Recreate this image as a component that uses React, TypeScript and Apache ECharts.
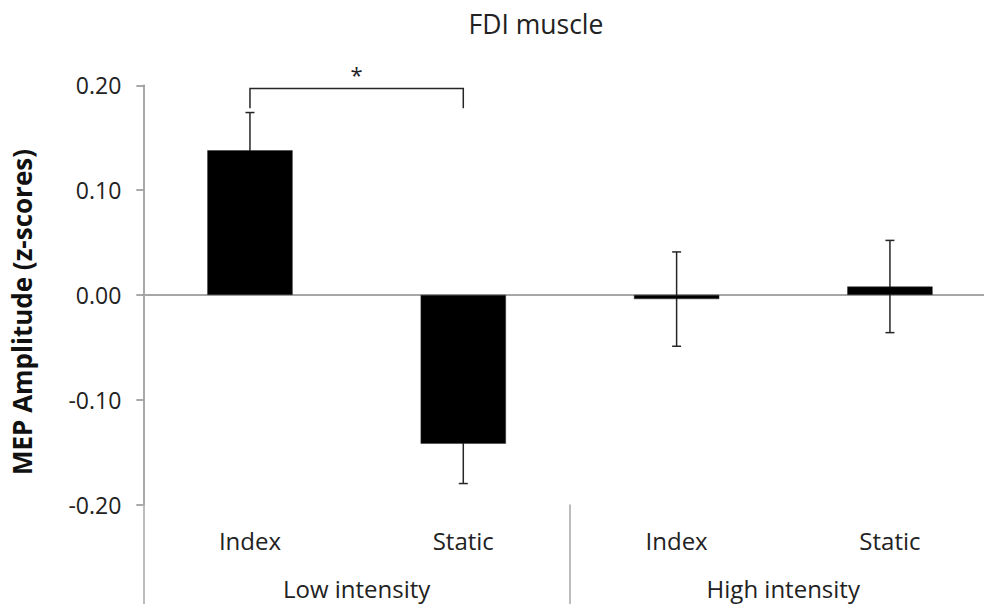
import React, { useEffect, useRef } from "react";
import * as echarts from "echarts";

const conditions = ["Index", "Static", "Index", "Static"];
const groups = ["Low intensity", "High intensity"];
const meanValues = [0.138, -0.142, -0.004, 0.008];
const errorValues = [0.036, 0.038, 0.045, 0.044];
// significance bracket: [fromCategory, toCategory, bracketTop, legEnd]
const bracket = [[0, 1, 0.197, 0.178]];
const bracketLabel = "*";
const yTicks = { min: -0.2, max: 0.2, interval: 0.1 };

const FONT = "'Open Sans', 'Noto Sans', sans-serif";
const TEXT = "#222222";

export default function App() {
  const ref = useRef<HTMLDivElement>(null);
  useEffect(() => {
    if (!ref.current) return;
    const chart = echarts.init(ref.current, null, { renderer: "svg" });
    const option: any = {
      animation: false,
      backgroundColor: "#ffffff",
      textStyle: { fontFamily: FONT },
      grid: {
        left: 143.3,
        top: 85.3,
        width: 853.3,
        height: 419.2,
        containLabel: false,
        outerBoundsMode: "none",
      },
      graphic: [
        {
          type: "text",
          x: 536,
          y: 24,
          style: {
            text: "FDI muscle",
            fontFamily: FONT,
            fontSize: 26.5,
            fill: TEXT,
            textAlign: "center",
            textVerticalAlign: "middle",
          },
        },
        {
          type: "text",
          x: 22,
          y: 312,
          rotation: Math.PI / 2,
          style: {
            text: "MEP Amplitude (z-scores)",
            fontFamily: FONT,
            fontSize: 26,
            fontWeight: "bold",
            fill: "#111111",
            textAlign: "center",
            textVerticalAlign: "middle",
          },
        },
      ],
      xAxis: [
        {
          type: "category",
          data: conditions,
          axisLine: { show: true, onZero: true, lineStyle: { color: "#a6a6a6", width: 2 } },
          axisTick: { show: false },
          axisLabel: { show: false },
          splitLine: { show: false },
        },
        {
          type: "category",
          data: conditions,
          position: "bottom",
          axisLine: { show: false, onZero: false },
          axisTick: { show: false },
          axisLabel: {
            show: true,
            margin: 21,
            fontSize: 24,
            lineHeight: 30,
            color: TEXT,
            fontFamily: FONT,
          },
        },
        {
          type: "category",
          data: groups,
          position: "bottom",
          axisLine: { show: false, onZero: false },
          axisTick: { show: true, length: 100, lineStyle: { color: "#a6a6a6", width: 1.5 } },
          axisLabel: {
            show: true,
            margin: 72,
            fontSize: 24,
            lineHeight: 24,
            color: TEXT,
            fontFamily: FONT,
          },
        },
      ],
      yAxis: {
        type: "value",
        min: yTicks.min,
        max: yTicks.max,
        interval: yTicks.interval,
        axisLine: { show: true, lineStyle: { color: "#8c8c8c", width: 1.5 } },
        axisTick: { show: true, length: 7, lineStyle: { color: "#8c8c8c", width: 1.5 } },
        axisLabel: {
          margin: 22,
          fontSize: 23,
          color: TEXT,
          fontFamily: FONT,
          formatter: (v: number) => v.toFixed(2),
        },
        splitLine: { show: false },
      },
      series: [
        {
          type: "custom",
          xAxisIndex: 0,
          z: 1,
          data: meanValues.map((v, i) => [i, v, errorValues[i]]),
          dimensions: ["x", "y", "err"],
          encode: { x: 0, y: 1 },
          renderItem: (params: any, api: any) => {
            const x = api.value(0);
            const v = api.value(1);
            const e = api.value(2);
            const top = api.coord([x, v + e]);
            const bot = api.coord([x, v - e]);
            const hw = 4.5;
            const style = { stroke: "#262626", lineWidth: 1.5 };
            return {
              type: "group",
              children: [
                { type: "line", shape: { x1: top[0], y1: top[1], x2: bot[0], y2: bot[1] }, style },
                { type: "line", shape: { x1: top[0] - hw, y1: top[1], x2: top[0] + hw, y2: top[1] }, style },
                { type: "line", shape: { x1: bot[0] - hw, y1: bot[1], x2: bot[0] + hw, y2: bot[1] }, style },
              ],
            };
          },
        },
        {
          type: "bar",
          xAxisIndex: 0,
          z: 2,
          data: meanValues,
          barWidth: "40%",
          itemStyle: { color: "#000000", borderColor: "#333333", borderWidth: 0.5 },
        },
        {
          type: "custom",
          xAxisIndex: 0,
          z: 3,
          data: bracket,
          dimensions: ["from", "to", "top", "leg"],
          encode: { x: 0, y: 2 },
          renderItem: (params: any, api: any) => {
            const a = api.value(0);
            const b = api.value(1);
            const t = api.value(2);
            const l = api.value(3);
            const pA = api.coord([a, t]);
            const pB = api.coord([b, t]);
            const legY = api.coord([a, l])[1];
            return {
              type: "group",
              children: [
                {
                  type: "polyline",
                  shape: {
                    points: [
                      [pA[0], legY],
                      [pA[0], pA[1]],
                      [pB[0], pB[1]],
                      [pB[0], legY],
                    ],
                  },
                  style: { stroke: "#262626", lineWidth: 1.5, fill: null },
                },
                {
                  type: "text",
                  x: (pA[0] + pB[0]) / 2,
                  y: pA[1] - 14,
                  style: {
                    text: bracketLabel,
                    fontFamily: FONT,
                    fontSize: 22,
                    fill: TEXT,
                    textAlign: "center",
                    textVerticalAlign: "middle",
                  },
                },
              ],
            };
          },
        },
      ],
    };
    chart.setOption(option);
    return () => chart.dispose();
  }, []);
  return (
    <div style={{ position: "fixed", left: 0, top: 0, width: 984, height: 604, overflow: "hidden", background: "#fff" }}>
      <div ref={ref} style={{ position: "absolute", left: 0, top: 0, width: 1010, height: 604 }} />
    </div>
  );
}
